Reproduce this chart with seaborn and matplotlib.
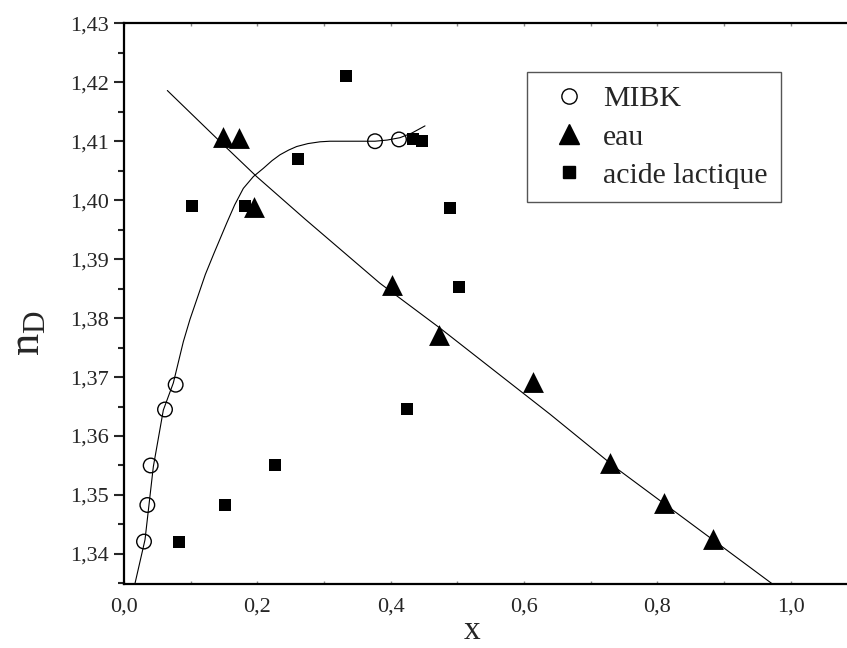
import numpy as np
import pandas as pd
import matplotlib
matplotlib.use("Agg")
import matplotlib.pyplot as plt
from matplotlib.ticker import MultipleLocator, FuncFormatter
from matplotlib.lines import Line2D
import seaborn as sns

# data
mibk_x = [0.030, 0.035, 0.040, 0.0615, 0.0775, 0.3765, 0.4125]
mibk_y = [1.3421, 1.3483, 1.3550, 1.3645, 1.3687, 1.4100, 1.4103]

eau_x = [0.149, 0.172, 0.1955, 0.402, 0.4725, 0.614, 0.7295, 0.8105, 0.884, 1.000]
eau_y = [1.4108, 1.4105, 1.3989, 1.3856, 1.3771, 1.3691, 1.3554, 1.3487, 1.3425, 1.3330]

acide_x = [0.082, 0.1515, 0.227, 0.1015, 0.1815, 0.2615, 0.3325, 0.434, 0.4465, 0.4895, 0.5025, 0.425]
acide_y = [1.3421, 1.3483, 1.3550, 1.3990, 1.3990, 1.4070, 1.4211, 1.4104, 1.4100, 1.3986, 1.3852, 1.3646]

# fitted curves, sampled along the drawn lines
fit_mibk_x = [0.0165, 0.0315, 0.044, 0.059, 0.074, 0.089, 0.099, 0.109, 0.122, 0.135, 0.154,
              0.166, 0.179, 0.194, 0.209, 0.222, 0.234, 0.247, 0.259, 0.276, 0.294, 0.309,
              0.340, 0.3765, 0.395, 0.414, 0.432, 0.4515]
fit_mibk_y = [1.3350, 1.3424, 1.3548, 1.3644, 1.3690, 1.3760, 1.3798, 1.3831, 1.3874, 1.3910, 1.3961,
              1.3992, 1.4020, 1.4040, 1.4054, 1.4067, 1.4077, 1.4085, 1.4091, 1.4096, 1.4099, 1.4100,
              1.4100, 1.4100, 1.4102, 1.4106, 1.4114, 1.4126]

fit_eau_x = [0.065, 0.149, 0.199, 0.2715, 0.384, 0.474, 0.639, 0.739, 0.9715, 0.98]
fit_eau_y = [1.4186, 1.4094, 1.4040, 1.3968, 1.3859, 1.3783, 1.3637, 1.3545, 1.3350, 1.3343]

sns.set_style("ticks")
plt.rcParams["font.family"] = ["Liberation Serif", "DejaVu Serif"]
plt.rcParams["mathtext.fontset"] = "custom"
plt.rcParams["mathtext.rm"] = "Liberation Serif"

fig = plt.figure(figsize=(8.47, 6.48), dpi=100)
ax = fig.add_axes([124 / 847, 64 / 648, 723 / 847, 560.7 / 648])

sns.lineplot(x=fit_mibk_x, y=fit_mibk_y, sort=False, color="black", linewidth=0.8, ax=ax)
sns.lineplot(x=fit_eau_x, y=fit_eau_y, sort=False, color="black", linewidth=0.8, ax=ax)

sns.scatterplot(x=acide_x, y=acide_y, marker="s", s=8.0 ** 2, color="black",
                edgecolor="black", linewidth=0, ax=ax, zorder=3)
sns.scatterplot(x=eau_x, y=eau_y, marker="^", s=15 ** 2, color="black",
                edgecolor="black", linewidth=0, ax=ax, zorder=3)
sns.scatterplot(x=mibk_x, y=mibk_y, marker="o", s=10.5 ** 2, facecolor="none",
                edgecolor="black", linewidth=1.0, ax=ax, zorder=4)

ax.set_xlim(0, 1.0845)
ax.set_ylim(1.3349, 1.43)

ax.xaxis.set_major_locator(MultipleLocator(0.2))
ax.xaxis.set_minor_locator(MultipleLocator(0.1))
ax.yaxis.set_major_locator(MultipleLocator(0.01))
ax.yaxis.set_minor_locator(MultipleLocator(0.005))
ax.xaxis.set_major_formatter(FuncFormatter(lambda v, p: f"{v:.1f}".replace(".", ",")))
ax.yaxis.set_major_formatter(FuncFormatter(lambda v, p: f"{v:.2f}".replace(".", ",")))

ax.tick_params(axis="y", which="major", direction="out", length=7.5, width=1.5,
               labelsize=16, pad=3.5)
ax.tick_params(axis="y", which="minor", direction="out", length=4, width=1.5)
ax.tick_params(axis="x", which="both", direction="in", length=2.5, width=1,
               top=True, labelsize=16, pad=10, color="#888888")

for side in ["left", "bottom", "top"]:
    ax.spines[side].set_linewidth(1.6)
    ax.spines[side].set_color("black")
ax.spines["right"].set_visible(False)

ax.set_xlabel("x", fontsize=24)
ax.xaxis.set_label_coords((472.5 - 124) / 723, -(631 - 584) / 560.7)
ax.xaxis.label.set_va("center")
ax.set_ylabel(r"$\mathrm{n_D}$", fontsize=32)
ax.yaxis.set_label_coords(-(124 - 28) / 723, (584 - 333) / 560.7)
ax.yaxis.label.set_va("center")

handles = [
    Line2D([], [], marker="o", linestyle="none", markersize=11, markerfacecolor="none",
           markeredgecolor="black", markeredgewidth=1.0),
    Line2D([], [], marker="^", linestyle="none", markersize=15, color="black"),
    Line2D([], [], marker="s", linestyle="none", markersize=9, color="black"),
]
leg = ax.legend(handles, ["MIBK", "eau", "acide lactique"], loc="upper left",
                bbox_to_anchor=(527 / 847, 1 - 72 / 648), bbox_transform=fig.transFigure,
                fontsize=21.5, frameon=True, fancybox=False, framealpha=1,
                edgecolor="#555555", handlelength=1.9, handletextpad=0.2,
                labelspacing=0.38, borderpad=0.45, borderaxespad=0)
leg.get_frame().set_linewidth(1.0)

fig.savefig("out.png", dpi=100)
